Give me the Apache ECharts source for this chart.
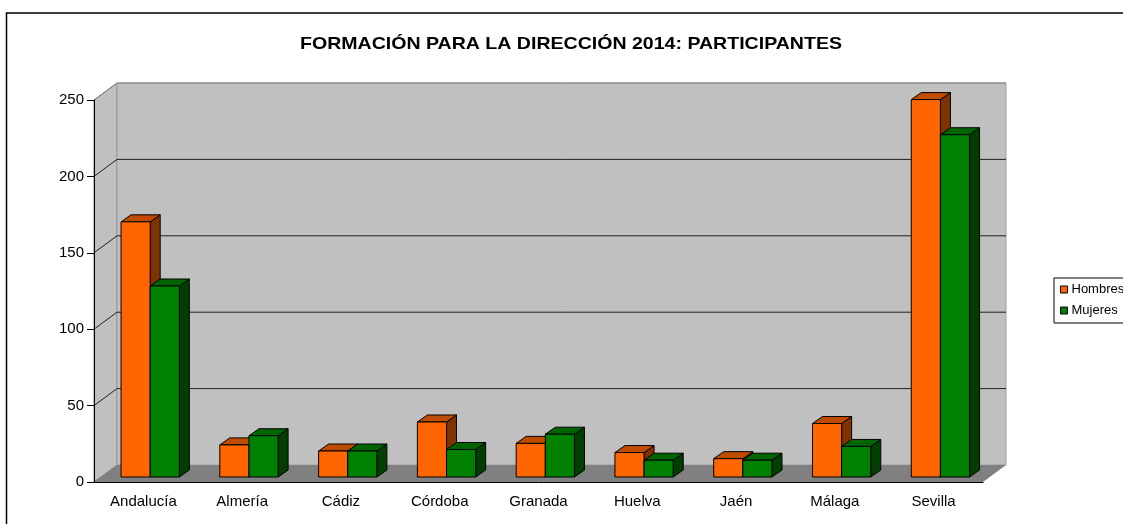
<!DOCTYPE html>
<html>
<head>
<meta charset="utf-8">
<script src="https://cdn.jsdelivr.net/npm/echarts@6/dist/echarts.min.js"></script>
<style>
  html, body { margin: 0; padding: 0; background: #fff; }
  #main { width: 1123px; height: 524px; }
</style>
</head>
<body>
<div id="main"></div>
<script>
// datos
var categories = ['Andalucía', 'Almería', 'Cádiz', 'Córdoba', 'Granada', 'Huelva', 'Jaén', 'Málaga', 'Sevilla'];
var hombres = [167, 21, 17, 36, 22, 16, 12, 35, 247];
var mujeres = [125, 27, 17, 18, 28, 11, 11, 20, 224];
var yTicks = [0, 50, 100, 150, 200, 250];

// profundidad del "3D" (pared del fondo)
var DX = 23, DY = -17;
// barras: cara frontal desplazada, profundidad de la barra
var FX = 6.8, FY = -5, BX = 10, BY = -7;

var font = '"Liberation Sans", Arial, sans-serif';

function renderWalls(params, api) {
    var cs = params.coordSys;
    var x0 = cs.x, x1 = cs.x + cs.width;
    var yb = api.coord([0, 0])[1];
    var yt = api.coord([0, 250])[1];
    var children = [];
    // pared lateral
    children.push({
        type: 'polygon',
        shape: { points: [[x0, yt], [x0 + DX, yt + DY], [x0 + DX, yb + DY], [x0, yb]] },
        style: { fill: '#c0c0c0', stroke: '#808080', lineWidth: 1 }
    });
    // pared del fondo
    children.push({
        type: 'rect',
        shape: { x: x0 + DX, y: yt + DY, width: x1 - x0, height: yb - yt },
        style: { fill: '#c0c0c0', stroke: '#a0a0a0', lineWidth: 1 }
    });
    // suelo
    children.push({
        type: 'polygon',
        shape: { points: [[x0, yb], [x1, yb], [x1 + DX, yb + DY], [x0 + DX, yb + DY]] },
        style: { fill: '#808080', stroke: null }
    });
    // líneas de división
    yTicks.forEach(function (v) {
        if (v === 0) return;
        var y = api.coord([0, v])[1];
        var col = v === 250 ? '#808080' : '#202020';
        children.push({
            type: 'polyline',
            shape: { points: [[x0, y], [x0 + DX, y + DY], [x1 + DX, y + DY]] },
            style: { stroke: col, lineWidth: 1, fill: null }
        });
    });
    return { type: 'group', children: children };
}

function makeBarRender(side, front, top, right) {
    return function (params, api) {
        var idx = api.value(0);
        var top0 = api.coord([idx, api.value(1)]);
        var base = api.coord([idx, 0]);
        var band = api.size([1, 0])[0];
        var w = band * 0.295;
        var xl = base[0] + FX + (side === 0 ? -w : 0);
        var xr = xl + w;
        var yb = base[1] + FY;
        var yt = top0[1] + FY;
        var st = { stroke: '#000', lineWidth: 1 };
        return {
            type: 'group',
            children: [
                { type: 'polygon', shape: { points: [[xr, yt], [xr + BX, yt + BY], [xr + BX, yb + BY], [xr, yb]] },
                  style: Object.assign({ fill: right }, st) },
                { type: 'polygon', shape: { points: [[xl, yt], [xl + BX, yt + BY], [xr + BX, yt + BY], [xr, yt]] },
                  style: Object.assign({ fill: top }, st) },
                { type: 'rect', shape: { x: xl, y: yt, width: w, height: yb - yt },
                  style: Object.assign({ fill: front }, st) }
            ]
        };
    };
}

var chart = echarts.init(document.getElementById('main'));
chart.setOption({
    animation: false,
    backgroundColor: '#fff',
    legend: {
        orient: 'vertical',
        left: 1054, top: 278,
        padding: [5, 5, 6, 6],
        itemGap: 8,
        itemWidth: 7, itemHeight: 7,
        icon: 'rect',
        backgroundColor: '#fff',
        borderColor: '#000', borderWidth: 1,
        itemStyle: { borderColor: '#000', borderWidth: 1 },
        textStyle: { fontFamily: font, fontSize: 13, color: '#000', padding: [0, 0, 0, -1] },
        data: ['Hombres', 'Mujeres']
    },
    graphic: [{
        type: 'rect', z: 100, silent: true,
        shape: { x: 6.5, y: 13, width: 1200, height: 600 },
        style: { fill: null, stroke: '#000', lineWidth: 1.5 }
    }, {
        // título (ligeramente ensanchado como en el original)
        type: 'text', x: 571, y: 44, scaleX: 1.15, z: 100, silent: true,
        style: {
            text: 'FORMACIÓN PARA LA DIRECCIÓN 2014: PARTICIPANTES',
            font: 'bold 17px ' + font, fill: '#000',
            align: 'center', verticalAlign: 'middle'
        }
    }],
    grid: { left: 94, right: 140, top: 100, bottom: 42 },
    xAxis: {
        type: 'category', data: categories, z: 10,
        axisLine: { lineStyle: { color: '#000', width: 1 } },
        axisTick: { length: 6, lineStyle: { color: '#000' }, alignWithLabel: false },
        axisLabel: { fontFamily: font, fontSize: 15, color: '#000', margin: 12 },
        splitLine: { show: false }
    },
    yAxis: {
        type: 'value', min: 0, max: 250, interval: 50, z: 10,
        axisLine: { show: true, lineStyle: { color: '#000', width: 1 } },
        axisTick: { show: true, length: 7, lineStyle: { color: '#000' } },
        axisLabel: { fontFamily: font, fontSize: 15, color: '#000', margin: 10 },
        splitLine: { show: false }
    },
    series: [
        {
            type: 'custom', name: 'walls', silent: true, z: 1,
            renderItem: renderWalls,
            data: [[0, 0]]
        },
        {
            type: 'custom', name: 'Hombres', z: 2,
            itemStyle: { color: '#ff6600' },
            renderItem: makeBarRender(0, '#ff6600', '#c04c00', '#7f3300'),
            data: hombres.map(function (v, i) { return [i, v]; })
        },
        {
            type: 'custom', name: 'Mujeres', z: 3,
            itemStyle: { color: '#008000' },
            renderItem: makeBarRender(1, '#008000', '#006400', '#003f00'),
            data: mujeres.map(function (v, i) { return [i, v]; })
        }
    ]
});
</script>
</body>
</html>
